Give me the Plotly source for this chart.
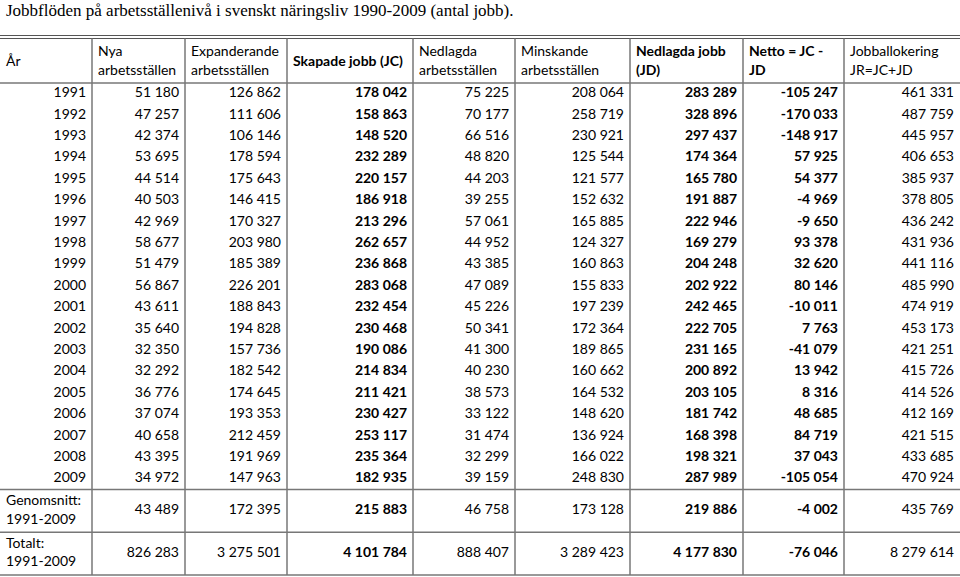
import plotly.graph_objects as go

TITLE = "Jobbflöden på arbetsställenivå i svenskt näringsliv 1990-2009 (antal jobb)."

headers = ["År", "Nya<br>arbetsställen", "Expanderande<br>arbetsställen", "Skapade jobb (JC)",
           "Nedlagda<br>arbetsställen", "Minskande<br>arbetsställen", "Nedlagda jobb<br>(JD)",
           "Netto = JC -<br>JD", "Jobballokering<br>JR=JC+JD"]
bold_cols = [3, 6, 7]

years = [1991, 1992, 1993, 1994, 1995, 1996, 1997, 1998, 1999, 2000,
         2001, 2002, 2003, 2004, 2005, 2006, 2007, 2008, 2009]
summary_labels = ["Genomsnitt:<br>1991-2009", "Totalt:<br>1991-2009"]

nya = [51180, 47257, 42374, 53695, 44514, 40503, 42969, 58677, 51479, 56867,
       43611, 35640, 32350, 32292, 36776, 37074, 40658, 43395, 34972]
expanderande = [126862, 111606, 106146, 178594, 175643, 146415, 170327, 203980, 185389, 226201,
                188843, 194828, 157736, 182542, 174645, 193353, 212459, 191969, 147963]
skapade_jc = [178042, 158863, 148520, 232289, 220157, 186918, 213296, 262657, 236868, 283068,
              232454, 230468, 190086, 214834, 211421, 230427, 253117, 235364, 182935]
nedlagda_arb = [75225, 70177, 66516, 48820, 44203, 39255, 57061, 44952, 43385, 47089,
                45226, 50341, 41300, 40230, 38573, 33122, 31474, 32299, 39159]
minskande = [208064, 258719, 230921, 125544, 121577, 152632, 165885, 124327, 160863, 155833,
             197239, 172364, 189865, 160662, 164532, 148620, 136924, 166022, 248830]
nedlagda_jd = [283289, 328896, 297437, 174364, 165780, 191887, 222946, 169279, 204248, 202922,
               242465, 222705, 231165, 200892, 203105, 181742, 168398, 198321, 287989]
netto = [-105247, -170033, -148917, 57925, 54377, -4969, -9650, 93378, 32620, 80146,
         -10011, 7763, -41079, 13942, 8316, 48685, 84719, 37043, -105054]
jobballokering = [461331, 487759, 445957, 406653, 385937, 378805, 436242, 431936, 441116, 485990,
                  474919, 453173, 421251, 415726, 414526, 412169, 421515, 433685, 470924]

genomsnitt = [43489, 172395, 215883, 46758, 173128, 219886, -4002, 435769]
totalt = [826283, 3275501, 4101784, 888407, 3289423, 4177830, -76046, 8279614]

columns = [nya, expanderande, skapade_jc, nedlagda_arb, minskande, nedlagda_jd, netto, jobballokering]

# layout of the table, in page pixels
W, H = 960, 577
edges = [0, 92, 185, 287, 413, 515, 630, 743, 844, 960]
PAD = 6
HEAD_TOP, HEAD_BOT = 37, 83
ROW_H = 21.4
BODY_END = HEAD_BOT + ROW_H * len(years)
SUM_H = (575 - BODY_END) / 2
FONT = "Lato"
FS = 14
LINE = "#777777"


def fmt(v):
    return f"{v:,}".replace(",", " ")


row_y = [HEAD_BOT + ROW_H * (i + 0.5) for i in range(len(years))]
sum_y = [BODY_END + SUM_H * (i + 0.5) for i in range(len(summary_labels))]

fig = go.Figure()

# header
for j, h in enumerate(headers):
    fig.add_trace(go.Scatter(
        x=[edges[j] + PAD], y=[(HEAD_TOP + HEAD_BOT) / 2 + 2], mode="text", text=[h],
        textposition="middle right",
        textfont=dict(family=FONT, size=FS, color="black",
                      weight="bold" if j in bold_cols else "normal"),
        hoverinfo="skip", showlegend=False))

# year column
fig.add_trace(go.Scatter(
    x=[edges[1] - PAD] * len(years), y=row_y, mode="text", text=[str(y) for y in years],
    textposition="middle left", textfont=dict(family=FONT, size=FS, color="black"),
    hoverinfo="skip", showlegend=False))
fig.add_trace(go.Scatter(
    x=[PAD] * len(summary_labels), y=sum_y, mode="text", text=summary_labels,
    textposition="middle right", textfont=dict(family=FONT, size=FS, color="black"),
    hoverinfo="skip", showlegend=False))

# value columns
for k, col in enumerate(columns):
    j = k + 1
    vals = col + [genomsnitt[k], totalt[k]]
    fig.add_trace(go.Scatter(
        x=[edges[j + 1] - PAD] * len(vals), y=row_y + sum_y, mode="text",
        text=[fmt(v) for v in vals], textposition="middle left",
        textfont=dict(family=FONT, size=FS, color="black",
                      weight="bold" if j in bold_cols else "normal"),
        hoverinfo="skip", showlegend=False))

# rules
shapes = [
    dict(type="line", x0=0, x1=W, y0=HEAD_TOP - 1.5, y1=HEAD_TOP - 1.5, line=dict(color="#555", width=1)),
    dict(type="line", x0=0, x1=W, y0=HEAD_TOP + 1.5, y1=HEAD_TOP + 1.5, line=dict(color="#555", width=1)),
]
for y in [HEAD_BOT, BODY_END, BODY_END + SUM_H, 575]:
    shapes.append(dict(type="line", x0=0, x1=W, y0=y, y1=y, line=dict(color=LINE, width=1.5)))
for x in edges[1:-1]:
    shapes.append(dict(type="line", x0=x, x1=x, y0=HEAD_TOP + 1.5, y1=575, line=dict(color=LINE, width=1.5)))

fig.update_layout(
    width=W, height=H,
    margin=dict(l=0, r=0, t=0, b=0),
    paper_bgcolor="white", plot_bgcolor="white",
    xaxis=dict(range=[0, W], visible=False, fixedrange=True),
    yaxis=dict(range=[H, 0], visible=False, fixedrange=True),
    shapes=shapes,
    annotations=[dict(text=TITLE, x=4, y=10, xref="x", yref="y", xanchor="left", yanchor="middle",
                      showarrow=False, font=dict(family="Liberation Serif", size=17, color="black"))],
)

fig.write_html("out.html", config={"displayModeBar": False},
               post_script="document.body.style.margin='0';document.body.style.overflow='hidden';")
